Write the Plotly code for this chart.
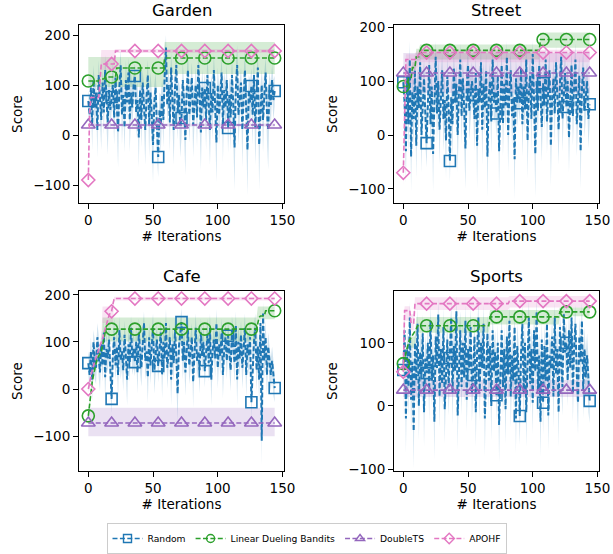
import plotly.graph_objects as go

# ---------------- data ----------------
panels = ["Garden", "Street", "Cafe", "Sports"]
n_iter = 145
iterations = list(range(n_iter))
marker_every = 18
series_names = ["Random", "Linear Dueling Bandits", "DoubleTS", "APOHF"]

# Random: mean score per iteration and spread of the shaded band
random_garden = [
    68, 40, 95, 20, 110, 55, 85, 10, 120, 60, 30, 105, 45, 130, 70, 25, 90, 50,
    76, 100, 35, 115, 60, 5, 95, 140, 40, 80, 15, 110, 65, 125, 30, 85, 55, 100,
    118, 45, 70, -5, 90, 30, 105, 60, 10, 75, 120, 20, 85, 40, -20, 65, 95, 15,
    -44, 50, 20, 80, 30, 120, 175, 60, 100, 25, 135, 70, 10, 95, 140, 45, 80, 20,
    34, 110, 65, -10, 90, 130, 40, 75, 115, 20, 60, 100, 35, 140, 80, 5, 95, 55,
    94, 30, 120, 70, 10, 85, 45, 130, 60, -15, 100, 40, 75, 125, 20, 90, 55, 110,
    14, 80, 35, 120, 60, -25, 95, 140, 40, 70, 105, 10, 85, 130, 50, -30, 90, 65,
    98, 40, 120, 15, 75, 135, -20, 60, 100, 30, 85, 125, 45, 10, 90, 60, 110, 70,
    88]
random_garden_err = [
    20, 35, 25, 50, 30, 45, 20, 55, 30, 40, 60, 25, 45, 30, 50, 65, 35, 40,
    30, 45, 55, 25, 40, 70, 35, 30, 60, 25, 50, 40, 35, 30, 65, 40, 45, 30,
    25, 50, 35, 60, 30, 55, 25, 40, 70, 35, 30, 65, 40, 50, 75, 35, 30, 60,
    40, 35, 60, 30, 55, 45, 25, 40, 35, 60, 30, 45, 70, 35, 40, 55, 30, 65,
    40, 35, 45, 70, 30, 40, 55, 35, 30, 65, 40, 35, 60, 30, 45, 75, 35, 40,
    30, 60, 35, 40, 70, 35, 55, 30, 45, 80, 35, 60, 40, 30, 75, 35, 50, 30,
    50, 35, 65, 30, 45, 85, 35, 40, 60, 40, 30, 75, 35, 40, 55, 90, 30, 45,
    35, 60, 30, 75, 40, 35, 90, 45, 30, 65, 40, 30, 55, 80, 35, 45, 30, 40,
    30]

random_street = [
    98, 60, -30, 110, 20, 140, -40, 80, 30, 120, -20, 90, 50, 135, 0, 70, 105, 40,
    -15, 60, 130, 20, 90, -35, 75, 145, 40, 100, 10, 85, 120, 30, 65, -10, 110, 55,
    -48, 70, 20, 125, 60, 95, 0, 80, 140, 35, 105, 50, -25, 90, 130, 45, 75, 100,
    74, 30, 115, -20, 85, 60, 135, 10, 95, 50, 120, -40, 70, 100, 25, 140, 60, 80,
    40, 110, -30, 75, 130, 20, 95, 55, 145, 0, 85, 120, 35, 70, -45, 105, 60, 90,
    59, 125, 20, 90, 50, 140, -10, 80, 110, 30, 150, 65, -35, 100, 45, 130, 75, 15,
    96, 55, 140, 25, 85, 120, -20, 70, 105, 40, 135, 60, 10, 95, 145, 30, 80, 115,
    52, 100, -5, 75, 130, 35, 90, 140, 20, 65, 110, -30, 85, 125, 45, 70, 100, 30,
    57]
random_street_err = [
    25, 40, 60, 30, 55, 35, 65, 40, 50, 30, 60, 35, 45, 30, 70, 40, 35, 55,
    45, 35, 30, 60, 40, 70, 35, 30, 55, 40, 65, 35, 30, 60, 45, 70, 35, 40,
    40, 35, 60, 30, 45, 35, 70, 40, 30, 55, 35, 45, 75, 40, 30, 55, 40, 35,
    35, 60, 30, 80, 40, 45, 30, 65, 40, 50, 30, 75, 45, 35, 60, 30, 40, 45,
    45, 30, 70, 40, 30, 60, 35, 45, 30, 70, 40, 35, 55, 40, 75, 35, 45, 40,
    35, 30, 60, 40, 45, 30, 70, 40, 35, 60, 25, 45, 80, 35, 50, 30, 40, 65,
    35, 45, 30, 60, 40, 35, 75, 40, 35, 55, 30, 45, 65, 40, 30, 60, 40, 35,
    45, 35, 65, 40, 30, 55, 40, 30, 60, 45, 35, 70, 40, 30, 50, 40, 35, 55,
    35]

random_cafe = [
    55, 30, 80, 20, 100, 60, 45, 110, 70, 35, 95, 50, 120, 25, 85, 65, 105, 40,
    -21, 75, 110, 50, 90, 30, 125, 60, 80, 40, 115, 70, 20, 95, 55, 130, 65, 85,
    57, 100, 35, 120, 70, 45, 95, 140, 60, 80, 25, 110, 50, 90, 130, 40, 75, 105,
    49, 85, 120, 30, 100, 65, 140, 45, 80, 110, 20, 95, 55, 125, 70, -10, 90, 115,
    142, 60, 100, 35, 85, 125, 50, 75, 110, 15, 95, 130, 60, 80, 40, 120, 70, 100,
    38, 90, 115, 55, 130, 20, 80, 105, 65, 140, 45, 95, 70, 120, 30, 85, 110, 60,
    113, 75, 40, 125, 90, 55, 135, 20, 100, 65, 115, 45, 85, 130, 30, 95, 70, 110,
    -28, 60, 100, 130, 40, 90, 20, 140, -110, 160, 60, 110, 30, 90, 50, 30, 60, 20,
    2]
random_cafe_err = [
    25, 35, 30, 45, 25, 40, 35, 30, 45, 40, 30, 35, 25, 50, 35, 30, 40, 45,
    30, 35, 40, 30, 35, 50, 30, 40, 35, 45, 30, 35, 55, 30, 40, 25, 35, 40,
    30, 35, 45, 30, 35, 40, 30, 25, 40, 35, 55, 30, 40, 35, 30, 50, 35, 30,
    35, 30, 25, 50, 35, 40, 30, 45, 35, 30, 55, 35, 40, 30, 35, 60, 30, 35,
    30, 40, 35, 50, 30, 35, 40, 35, 30, 55, 35, 30, 40, 35, 50, 30, 35, 40,
    35, 30, 35, 40, 30, 55, 35, 30, 40, 30, 45, 35, 40, 30, 50, 35, 30, 40,
    30, 35, 45, 30, 35, 40, 30, 55, 35, 40, 30, 45, 35, 30, 50, 35, 40, 30,
    35, 40, 35, 30, 45, 35, 50, 30, 50, 25, 40, 35, 45, 30, 40, 35, 30, 35,
    30]

random_sports = [
    57, 120, -20, 90, 30, 140, 10, 70, -40, 100, 40, 130, 0, 85, 50, 115, -10, 75,
    52, 100, 20, 135, 40, 80, -25, 110, 60, 145, 15, 90, 35, 125, -5, 70, 105, 30,
    76, 140, 20, 95, 55, 150, -15, 80, 120, 30, 100, 45, 135, 10, 90, 60, 125, 20,
    49, 110, -10, 85, 140, 25, 100, 60, 130, -20, 75, 115, 40, 95, 0, 120, 55, 85,
    17, 100, -30, 70, 120, 30, 90, -5, 110, 50, 135, 15, 80, 40, 125, -20, 95, 60,
    -16, 85, 130, 20, 100, -10, 75, 140, 35, 90, 5, 120, 55, 150, 25, 80, -25, 105,
    5, 95, 40, 130, -15, 80, 60, 110, 15, 140, 50, 90, -10, 125, 70, 30, 145, 85,
    100, 40, 120, 60, 140, 20, 95, 130, 50, 5, 110, 70, 135, 25, 90, 45, 80, 30,
    8]
random_sports_err = [
    30, 25, 55, 35, 45, 25, 50, 35, 60, 30, 40, 25, 55, 35, 40, 30, 55, 35,
    35, 30, 45, 25, 40, 35, 60, 30, 40, 25, 50, 35, 40, 30, 55, 35, 30, 45,
    30, 25, 50, 35, 40, 25, 55, 35, 30, 45, 30, 40, 25, 50, 35, 40, 30, 45,
    35, 30, 55, 35, 25, 50, 30, 40, 30, 60, 35, 30, 45, 35, 55, 30, 40, 35,
    40, 30, 60, 35, 30, 45, 35, 55, 30, 40, 25, 50, 35, 45, 30, 55, 35, 40,
    45, 35, 30, 50, 35, 55, 40, 30, 45, 35, 50, 30, 40, 25, 45, 35, 55, 30,
    50, 35, 40, 30, 55, 35, 40, 30, 50, 25, 40, 35, 55, 30, 40, 45, 25, 35,
    30, 40, 30, 35, 25, 45, 35, 30, 40, 50, 30, 35, 30, 45, 35, 40, 35, 40,
    35]

# Step-like series, stored as runs: (count, mean, band_low, band_high)
ldb_garden = [(9, 108, 96, 156), (4, 112, 96, 156), (9, 116, 96, 156),
              (37, 134, 96, 156), (86, 154, 122, 186)]
dts_garden = [(145, 20, 17, 23)]
apohf_garden = [(1, -90, -95, -85), (1, 45, 35, 55), (7, 75, 68, 82),
                (1, 105, 95, 120), (11, 142, 130, 170), (124, 168, 164, 172)]

ldb_street = [(4, 90, 82, 98), (3, 105, 95, 115), (3, 125, 115, 135),
              (3, 145, 138, 160), (93, 157, 140, 168), (39, 177, 162, 190)]
dts_street = [(145, 115, 78, 152)]
apohf_street = [(1, -70, -95, -45), (1, 40, 10, 80), (8, 140, 95, 150),
                (2, 145, 125, 155), (3, 150, 135, 158), (130, 153, 135, 158)]

ldb_cafe = [(1, -57, -65, -49), (1, -30, -40, -20), (1, -5, -15, 5),
            (1, 15, 5, 25), (1, 30, 20, 40), (1, 45, 35, 55), (1, 55, 45, 65),
            (1, 65, 55, 75), (1, 72, 62, 82), (1, 75, 65, 85), (1, 78, 68, 88),
            (1, 95, 85, 152), (1, 110, 101, 152), (1, 120, 101, 152),
            (117, 127, 101, 152), (1, 140, 148, 175), (1, 152, 148, 175),
            (4, 155, 148, 175), (8, 166, 148, 175)]
dts_cafe = [(145, -72, -100, -40)]
apohf_cafe = [(1, 0, -8, 8), (1, 15, 7, 23), (1, 28, 20, 36), (1, 40, 32, 48),
              (1, 50, 42, 58), (1, 60, 52, 68), (1, 68, 60, 76), (1, 76, 68, 84),
              (1, 84, 76, 92), (1, 92, 84, 100), (1, 99, 90, 108),
              (1, 106, 140, 175), (1, 118, 140, 175), (1, 128, 140, 175),
              (1, 138, 140, 175), (1, 148, 140, 175), (1, 156, 140, 175),
              (1, 162, 140, 175), (1, 165, 140, 175), (1, 180, 140, 185),
              (125, 192, 188, 196)]

ldb_sports = [(1, 67, 60, 74), (1, 75, 68, 82), (1, 85, 78, 92), (1, 95, 88, 102),
              (1, 100, 92, 108), (1, 105, 95, 115), (1, 108, 92, 110),
              (1, 112, 92, 110), (1, 115, 92, 110), (1, 118, 92, 110),
              (1, 122, 116, 141), (56, 127, 116, 141), (54, 141, 129, 152),
              (24, 149, 142, 156)]
dts_sports = [(145, 25, 14, 41)]
apohf_sports = [(1, 54, -25, 130), (5, 151, 135, 158), (3, 131, 120, 145),
                (73, 162, 152, 172), (63, 166, 156, 174)]

random_data = {
    "Garden": (random_garden, random_garden_err),
    "Street": (random_street, random_street_err),
    "Cafe": (random_cafe, random_cafe_err),
    "Sports": (random_sports, random_sports_err),
}
step_data = {
    "Garden": (ldb_garden, dts_garden, apohf_garden),
    "Street": (ldb_street, dts_street, apohf_street),
    "Cafe": (ldb_cafe, dts_cafe, apohf_cafe),
    "Sports": (ldb_sports, dts_sports, apohf_sports),
}

y_ranges = {"Garden": [-136, 220], "Street": [-126, 204],
            "Cafe": [-174, 208], "Sports": [-103, 182]}
y_ticks = {"Garden": [-100, 0, 100, 200], "Street": [-100, 0, 100, 200],
           "Cafe": [-100, 0, 100, 200], "Sports": [-100, 0, 100]}
x_ticks = [0, 50, 100, 150]

# ---------------- style ----------------
colors = ["#1f77b4", "#2ca02c", "#9467bd", "#e377c2"]
fills = ["rgba(31,119,180,0.2)", "rgba(44,160,44,0.2)",
         "rgba(148,103,189,0.2)", "rgba(227,119,194,0.2)"]
symbols = ["square-open", "circle-open", "triangle-up-open", "diamond-open"]
msizes = [11, 12, 12, 10]
line_w = [2.0, 1.6, 1.6, 1.6]
dash = "5px,2.4px"
FONT = "DejaVu Sans"

W, H = 613, 554


def xdom(a, b):
    return [a / W, b / W]


def ydom(top, bottom):
    return [1 - bottom / H, 1 - top / H]


x_domains = [xdom(79, 284), xdom(394, 599)]
y_domains = [ydom(25, 203), ydom(291, 471)]


def expand(runs):
    m, lo, hi = [], [], []
    for cnt, v, l, h in runs:
        m += [v] * cnt
        lo += [l] * cnt
        hi += [h] * cnt
    return m, lo, hi


fig = go.Figure()

for p, name in enumerate(panels):
    row, col = divmod(p, 2)
    ax = "" if p == 0 else str(p + 1)
    xref, yref = "x" + ax, "y" + ax
    rmean, rerr = random_data[name]
    rlo = [m - e for m, e in zip(rmean, rerr)]
    rhi = [m + e for m, e in zip(rmean, rerr)]
    series = [(rmean, rlo, rhi)] + [expand(r) for r in step_data[name]]
    for s, (m, lo, hi) in enumerate(series):
        fig.add_trace(go.Scatter(
            x=iterations + iterations[::-1], y=hi + lo[::-1],
            fill="toself", fillcolor=fills[s], line=dict(width=0),
            mode="lines", hoverinfo="skip", showlegend=False,
            xaxis=xref, yaxis=yref))
    for s, (m, lo, hi) in enumerate(series):
        fig.add_trace(go.Scatter(
            x=iterations, y=m, mode="lines",
            line=dict(color=colors[s], width=line_w[s], dash=dash),
            showlegend=False, xaxis=xref, yaxis=yref))
        fig.add_trace(go.Scatter(
            x=iterations[::marker_every], y=m[::marker_every], mode="markers",
            marker=dict(symbol=symbols[s], size=msizes[s], color=colors[s],
                        line=dict(width=1.6, color=colors[s])),
            showlegend=False, xaxis=xref, yaxis=yref))

    fig.add_annotation(text=name, x=sum(x_domains[col]) / 2,
                       y=y_domains[row][1], xref="paper", yref="paper",
                       xanchor="center", yanchor="bottom", yshift=3,
                       showarrow=False, font=dict(size=16.5, color="black", family=FONT))

    axis_common = dict(showline=True, mirror=True, linecolor="black", linewidth=1,
                       ticks="outside", ticklen=5, tickwidth=1, tickcolor="black",
                       showgrid=False, zeroline=False, automargin=False,
                       tickfont=dict(size=13.5, color="black", family=FONT))
    fig.update_layout(**{
        "xaxis" + ax: dict(domain=x_domains[col], range=[-7.2, 151.2],
                           tickvals=x_ticks, anchor=yref,
                           title=dict(text="# Iterations", standoff=4,
                                      font=dict(size=13.5, color="black", family=FONT)),
                           **axis_common),
        "yaxis" + ax: dict(domain=y_domains[row], range=y_ranges[name],
                           tickvals=y_ticks[name], anchor=xref,
                           title=dict(text="Score", standoff=7,
                                      font=dict(size=13.5, color="black", family=FONT)),
                           **axis_common),
    })

for s, nm in enumerate(series_names):
    fig.add_trace(go.Scatter(
        x=[None], y=[None], mode="lines+markers", name=nm,
        line=dict(color=colors[s], width=1.6, dash=dash),
        marker=dict(symbol=symbols[s], size=8, color=colors[s],
                    line=dict(width=1.4, color=colors[s]))))

fig.update_layout(
    width=W, height=H,
    margin=dict(l=0, r=0, t=0, b=0, autoexpand=False),
    paper_bgcolor="white", plot_bgcolor="white",
    font=dict(family=FONT, color="black"),
    hovermode=False,
    legend=dict(orientation="h", x=0.5, xanchor="center", y=0.0, yanchor="bottom",
                bordercolor="#cccccc", borderwidth=1, font=dict(size=9.2, family=FONT),
                itemwidth=30, tracegroupgap=0),
)

# remove the browser's default 8px page margin so the figure fills the window
fig.write_html("out.html", config={"displayModeBar": False},
               post_script="document.body.style.margin='0px';")
